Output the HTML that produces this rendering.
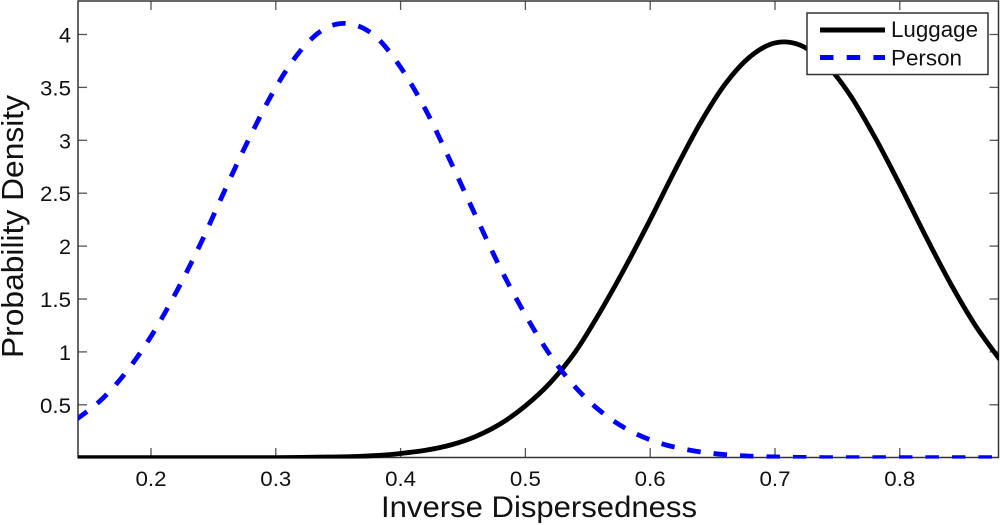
<!DOCTYPE html>
<html><head><meta charset="utf-8"><title>Probability Density</title>
<style>html,body{margin:0;padding:0;background:#fff}svg{display:block}text{font-family:"Liberation Sans",Arial,sans-serif;fill:#111}</style>
</head><body>
<svg id="chart" xmlns="http://www.w3.org/2000/svg" width="1000" height="525" viewBox="0 0 1000 525">
<defs><clipPath id="plot-clip"><rect x="78" y="1" width="921" height="457.6"/></clipPath></defs>
<rect x="78" y="1" width="920.5" height="456" fill="#fff"/>
<g id="ticks"></g>
<rect x="78" y="1" width="920.5" height="456.5" fill="none" stroke="#333" stroke-width="1.5"/>
<g id="series" clip-path="url(#plot-clip)"></g>
<g id="labels"></g>
<text x="381" y="517" font-size="30" textLength="316" lengthAdjust="spacingAndGlyphs">Inverse Dispersedness</text>
<text transform="translate(23,358) rotate(-90)" font-size="31" textLength="263" lengthAdjust="spacingAndGlyphs">Probability Density</text>
<g>
<rect x="807" y="13" width="181" height="61.5" fill="#fff" stroke="#333" stroke-width="1.5"/>
<line x1="820" y1="30" x2="885" y2="30" stroke="#000" stroke-width="5"/>
<text x="891" y="37" font-size="22" textLength="87" lengthAdjust="spacingAndGlyphs">Luggage</text>
<line x1="820" y1="57.5" x2="885" y2="57.5" stroke="#0000ff" stroke-width="5" stroke-dasharray="13.5 13.2"/>
<text x="891" y="65.5" font-size="22" textLength="71" lengthAdjust="spacingAndGlyphs">Person</text>
</g>
</svg>
<script>
const xTicks = [0.2,0.3,0.4,0.5,0.6,0.7,0.8];
const yTicks = [0.5,1,1.5,2,2.5,3,3.5,4];
const xGrid = [0.14,0.16,0.18,0.20,0.22,0.24,0.26,0.28,0.30,0.32,0.34,0.36,0.38,0.40,0.42,0.44,0.46,0.48,0.50,0.52,0.54,0.56,0.58,0.60,0.62,0.64,0.66,0.68,0.70,0.72,0.74,0.76,0.78,0.80,0.82,0.84,0.86,0.88];
const personValues = [0.36,0.545,0.808,1.146,1.56,2.03,2.55,3.05,3.50,3.85,4.06,4.10,3.98,3.69,3.29,2.80,2.29,1.79,1.35,0.967,0.667,0.441,0.279,0.169,0.099,0.055,0.029,0.015,0.007,0.003,0.001,0,0,0,0,0,0,0];
const luggageValues = [0,0,0,0,0,0,0,0,0.001,0.003,0.006,0.01,0.02,0.04,0.07,0.12,0.20,0.32,0.49,0.71,1.00,1.38,1.80,2.25,2.72,3.16,3.53,3.79,3.92,3.90,3.73,3.43,3.03,2.58,2.11,1.66,1.26,0.93];

const NS = 'http://www.w3.org/2000/svg';
function sx(v){ return 151 + (v - 0.2) * 1248; }
function sy(v){ return 34.5 + (4 - v) * 105.8; }
function smoothPath(xs, ys){
  const p = xs.map((x,i)=>[sx(x), sy(ys[i])]);
  let d = 'M' + p[0][0].toFixed(2) + ' ' + p[0][1].toFixed(2);
  for (let i = 0; i < p.length - 1; i++) {
    const a = p[Math.max(i-1,0)], b = p[i], c = p[i+1], e = p[Math.min(i+2,p.length-1)];
    d += 'C' + (b[0]+(c[0]-a[0])/6).toFixed(2) + ' ' + (b[1]+(c[1]-a[1])/6).toFixed(2) + ' ' +
         (c[0]-(e[0]-b[0])/6).toFixed(2) + ' ' + (c[1]-(e[1]-b[1])/6).toFixed(2) + ' ' +
         c[0].toFixed(2) + ' ' + c[1].toFixed(2);
  }
  return d;
}
const ticksG = document.getElementById('ticks');
const labelsG = document.getElementById('labels');
const seriesG = document.getElementById('series');
function tickLine(x1,y1,x2,y2){
  const l = document.createElementNS(NS,'line');
  
  
  l.setAttribute('x1',x1); l.setAttribute('y1',y1); l.setAttribute('x2',x2); l.setAttribute('y2',y2);
  l.setAttribute('stroke','#555'); l.setAttribute('stroke-width','1.3');
  ticksG.appendChild(l);
}
xTicks.forEach(v=>{
  const x = sx(v);
  tickLine(x,457,x,448); tickLine(x,1,x,10);
  const t = document.createElementNS(NS,'text');
  
  
  t.setAttribute('x',x - 15.5); t.setAttribute('y',486);
  t.setAttribute('font-size','21'); t.setAttribute('textLength','31'); t.setAttribute('lengthAdjust','spacingAndGlyphs');
  t.textContent = v.toFixed(1);
  labelsG.appendChild(t);
});
yTicks.forEach(v=>{
  const y = sy(v);
  tickLine(78,y,87,y); tickLine(998.5,y,989.5,y);
  const s = String(v);
  const t = document.createElementNS(NS,'text');
  
  
  t.setAttribute('x', 71 - (s.length > 1 ? 31 : 12)); t.setAttribute('y', y + 8);
  t.setAttribute('font-size','21'); t.setAttribute('textLength', s.length > 1 ? '31' : '12'); t.setAttribute('lengthAdjust','spacingAndGlyphs');
  t.textContent = s;
  labelsG.appendChild(t);
});
const luggagePath = document.createElementNS(NS,'path');


luggagePath.setAttribute('d', smoothPath(xGrid, luggageValues));
luggagePath.setAttribute('fill','none'); luggagePath.setAttribute('stroke','#000'); luggagePath.setAttribute('stroke-width','4.8');
seriesG.appendChild(luggagePath);
const personPath = document.createElementNS(NS,'path');


personPath.setAttribute('d', smoothPath(xGrid, personValues));
personPath.setAttribute('fill','none'); personPath.setAttribute('stroke','#0000ff'); personPath.setAttribute('stroke-width','4.8');
personPath.setAttribute('stroke-dasharray','13.5 13');
seriesG.appendChild(personPath);
</script>
</body></html>
